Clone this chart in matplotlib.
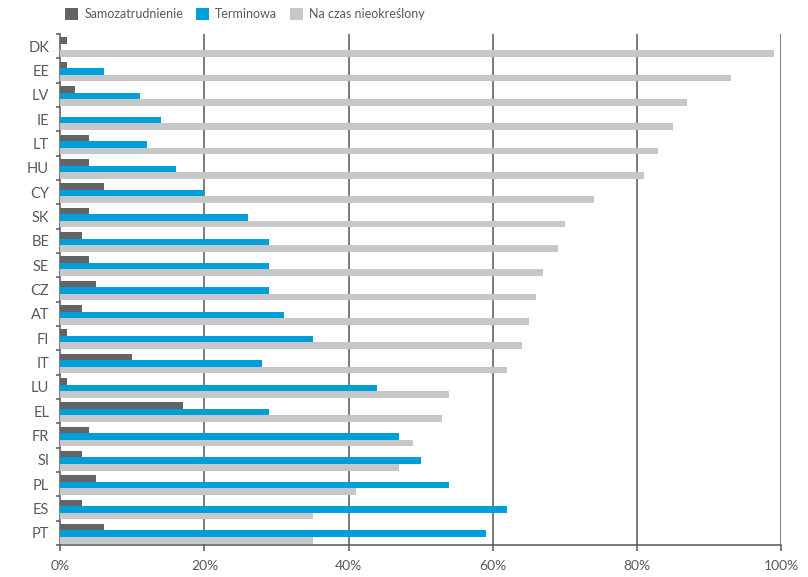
import matplotlib.pyplot as plt
import numpy as np

countries = ["DK", "EE", "LV", "IE", "LT", "HU", "CY", "SK", "BE", "SE", "CZ",
             "AT", "FI", "IT", "LU", "EL", "FR", "SI", "PL", "ES", "PT"]
samozatrudnienie = [1, 1, 2, 0, 4, 4, 6, 4, 3, 4, 5, 3, 1, 10, 1, 17, 4, 3, 5, 3, 6]
terminowa = [0, 6, 11, 14, 12, 16, 20, 26, 29, 29, 29, 31, 35, 28, 44, 29, 47, 50, 54, 62, 59]
nieokreslony = [99, 93, 87, 85, 83, 81, 74, 70, 69, 67, 66, 65, 64, 62, 54, 53, 49, 47, 41, 35, 35]

c_dark = "#636466"
c_blue = "#009fda"
c_light = "#c6c7c8"
c_text = "#58595b"

plt.rcParams['font.family'] = ['Lato', 'DejaVu Sans']

fig = plt.figure(figsize=(8.08, 5.77), dpi=100)
ax = fig.add_axes([0.0746, 0.0555, 0.8920, 0.8856])

y = np.arange(len(countries))
h = 0.27
off = 0.04
ax.barh(y - h + off, samozatrudnienie, height=h, color=c_dark, label="Samozatrudnienie", zorder=3)
ax.barh(y + off, terminowa, height=h, color=c_blue, label="Terminowa", zorder=3)
ax.barh(y + h + off, nieokreslony, height=h, color=c_light, label="Na czas nieokreślony", zorder=3)

ax.set_xlim(0, 100)
ax.set_ylim(len(countries) - 0.5, -0.5)

for v in [20, 40, 60, 80, 100]:
    ax.axvline(v, color=c_text, lw=1.1, zorder=1)

ax.set_xticks([0, 20, 40, 60, 80, 100])
ax.set_xticklabels(["0%", "20%", "40%", "60%", "80%", "100%"])
ax.set_yticks(y)
ax.set_yticklabels(countries)
ax.set_yticks(np.arange(len(countries) + 1) - 0.5, minor=True)
ax.tick_params(axis='y', which='major', length=0, pad=8, labelsize=10.5, labelcolor=c_text)
ax.tick_params(axis='y', which='minor', length=3, width=1.1, color=c_text)
ax.tick_params(axis='x', length=4, width=1.1, color=c_text, labelsize=10, labelcolor=c_text, pad=7)

for s in ['top', 'right']:
    ax.spines[s].set_visible(False)
for s in ['left', 'bottom']:
    ax.spines[s].set_color(c_text)
    ax.spines[s].set_linewidth(1.1)

leg = fig.legend(loc='center', bbox_to_anchor=(0.303, 0.975), ncol=3, frameon=False,
                 fontsize=9, handlelength=1.05, handleheight=1.05, columnspacing=1.0,
                 handletextpad=0.5)
for t in leg.get_texts():
    t.set_color(c_text)

fig.savefig("out.png", dpi=100)
